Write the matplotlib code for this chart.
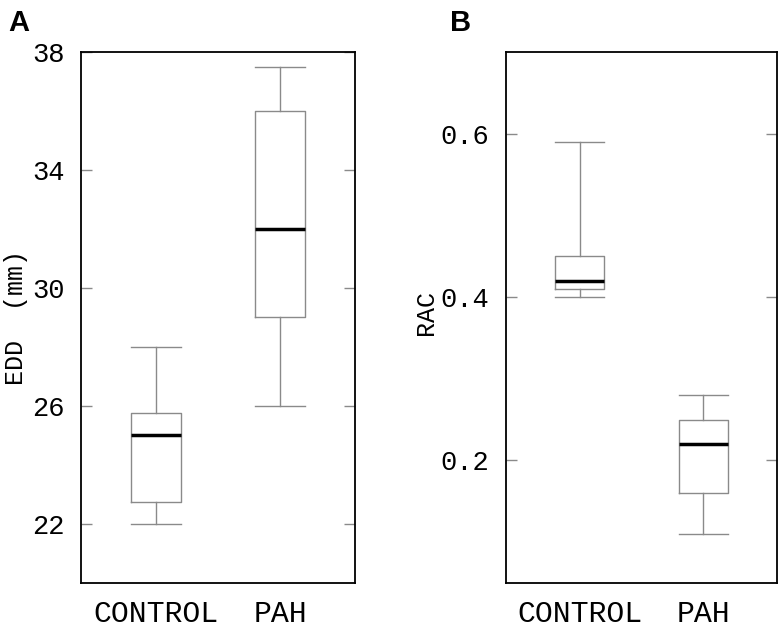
import matplotlib
matplotlib.use("Agg")
import matplotlib.pyplot as plt

groups = ["CONTROL", "PAH"]

# Panel A: EDD (mm) -- whisker low, Q1, median, Q3, whisker high
edd_low = [22.0, 26.0]
edd_q1 = [22.75, 29.0]
edd_med = [25.0, 32.0]
edd_q3 = [25.75, 36.0]
edd_high = [28.0, 37.5]
edd_ticks = [22, 26, 30, 34, 38]

# Panel B: RAC
rac_low = [0.40, 0.11]
rac_q1 = [0.41, 0.16]
rac_med = [0.42, 0.22]
rac_q3 = [0.45, 0.25]
rac_high = [0.59, 0.28]
rac_ticks = [0.2, 0.4, 0.6]

MONO = "Liberation Mono"
BOXGREY = "#8a8a8a"


def make_stats(low, q1, med, q3, high):
    stats = []
    for i in range(len(groups)):
        stats.append({"label": groups[i], "whislo": low[i], "q1": q1[i],
                      "med": med[i], "q3": q3[i], "whishi": high[i], "fliers": []})
    return stats


def draw_panel(ax, stats, ylim, yticks, ylabel, ticklabels):
    ax.bxp(stats, positions=[1, 2], widths=0.4, showfliers=False,
           boxprops=dict(color=BOXGREY, linewidth=1.0),
           whiskerprops=dict(color=BOXGREY, linewidth=1.0),
           capprops=dict(color=BOXGREY, linewidth=1.0),
           capwidths=0.4,
           medianprops=dict(color="black", linewidth=2.5))
    ax.set_xlim(0.4, 2.6)
    ax.set_ylim(*ylim)
    ax.set_yticks(yticks)
    ax.set_yticklabels(ticklabels, family=MONO, fontsize=19.5)
    ax.set_xticks([1, 2])
    ax.set_xticklabels(groups, family=MONO, fontsize=21.5)
    ax.tick_params(axis="x", length=0, pad=12)
    ax.tick_params(axis="y", direction="in", length=8, width=1, color=BOXGREY,
                   right=True, pad=12)
    for sp in ax.spines.values():
        sp.set_linewidth(1.3)
    ax.set_ylabel(ylabel)
    ax.yaxis.label.set_fontfamily(MONO)
    ax.yaxis.label.set_fontsize(18)


fig = plt.figure(figsize=(7.84, 6.28), dpi=100)
axA = fig.add_axes([0.1033, 0.0717, 0.3495, 0.8455])
axB = fig.add_axes([0.645, 0.0717, 0.3464, 0.8455])

draw_panel(axA, make_stats(edd_low, edd_q1, edd_med, edd_q3, edd_high),
           (20, 38), edd_ticks, "EDD  (mm)", [str(t) for t in edd_ticks])
draw_panel(axB, make_stats(rac_low, rac_q1, rac_med, rac_q3, rac_high),
           (0.05, 0.7), rac_ticks, "RAC", [f"{t:.1f}" for t in rac_ticks])
axA.yaxis.set_label_coords(-0.195, 0.5)
axB.yaxis.set_label_coords(-0.25, 0.51)

fig.text(0.010, 0.985, "A", family="Liberation Sans", fontweight="bold",
         fontsize=21, va="top", ha="left")
fig.text(0.574, 0.985, "B", family="Liberation Sans", fontweight="bold",
         fontsize=21, va="top", ha="left")

fig.savefig("out.png", dpi=100)
